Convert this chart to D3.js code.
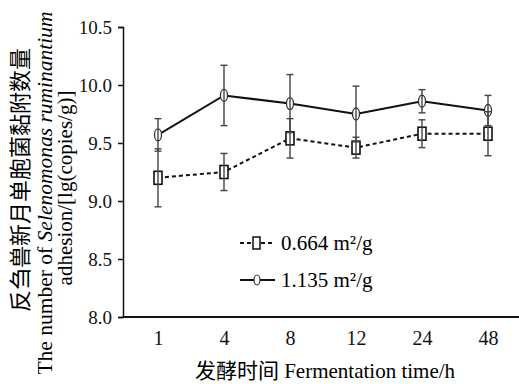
<!DOCTYPE html>
<html><head><meta charset="utf-8">
<script src="https://cdn.jsdelivr.net/npm/d3@7"></script>
<style>
body{margin:0;background:#fff;}
</style></head>
<body><svg id="c" width="519" height="384"></svg>
<script>
const categories = ["1","4","8","12","24","48"];
const seriesNames = ["0.664 m²/g","1.135 m²/g"];
const valuesA = [9.20, 9.25, 9.54, 9.46, 9.58, 9.58];
const errorsA = [0.25, 0.16, 0.17, 0.09, 0.12, 0.19];
const valuesB = [9.57, 9.91, 9.84, 9.75, 9.86, 9.78];
const errorsB = [0.14, 0.26, 0.25, 0.24, 0.10, 0.13];
const yTicks = [8.0, 8.5, 9.0, 9.5, 10.0, 10.5];

const SERIF = "'Liberation Serif','DejaVu Serif','Noto Serif',serif";
const svg = d3.select("#c");
const x = d3.scalePoint().domain(categories).range([125, 521]).padding(0.5);
const y = d3.scaleLinear().domain([8.0, 10.5]).range([317, 27]);

// axes
const yAxis = svg.append("g").attr("transform","translate(123,0)")
  .call(d3.axisLeft(y).tickValues(yTicks).tickFormat(d3.format(".1f")).tickSizeOuter(0).tickSize(5).tickPadding(6));
yAxis.attr("font-family", null);
yAxis.select(".domain").attr("stroke","#111").attr("stroke-width",1.5);
yAxis.selectAll(".tick line").attr("stroke","#111").attr("stroke-width",1.5);
yAxis.selectAll("text").style("font-family",SERIF).style("font-size","19px").attr("fill","#111");

const xAxis = svg.append("g").attr("transform","translate(0,317)")
  .call(d3.axisBottom(x).tickSize(0).tickPadding(14));
xAxis.attr("font-family", null);
xAxis.select(".domain").remove();
svg.append("line").attr("x1",123).attr("x2",519).attr("y1",317).attr("y2",317)
  .attr("stroke","#111").attr("stroke-width",2.2);
xAxis.selectAll("text").style("font-family",SERIF).style("font-size","20px").attr("fill","#111");

// lines
const line = (vals)=>d3.line().x((d,i)=>x(categories[i])).y(d=>y(d))(vals);
svg.append("path").attr("d",line(valuesA)).attr("fill","none").attr("stroke","#111")
  .attr("stroke-width",2).attr("stroke-dasharray","4,3");
svg.append("path").attr("d",line(valuesB)).attr("fill","none").attr("stroke","#111")
  .attr("stroke-width",2);

// markers
function squares(vals){
  svg.append("g").selectAll("rect").data(vals).join("rect")
    .attr("x",(d,i)=>x(categories[i])-4).attr("y",d=>y(d)-6.5)
    .attr("width",8).attr("height",13).attr("fill","#fff").attr("stroke","#111").attr("stroke-width",1.6);
}
function circles(vals){
  svg.append("g").selectAll("ellipse").data(vals).join("ellipse")
    .attr("cx",(d,i)=>x(categories[i])).attr("cy",d=>y(d))
    .attr("rx",3.5).attr("ry",6).attr("fill","#fff").attr("stroke","#333").attr("stroke-width",1.3);
}
squares(valuesA); circles(valuesB);

// error bars
function errs(vals, errs){
  const g = svg.append("g").attr("stroke","#444").attr("stroke-width",1.4);
  vals.forEach((v,i)=>{
    const cx = x(categories[i]);
    const top = y(v+errs[i]), bot = y(v-errs[i]);
    g.append("line").attr("x1",cx).attr("x2",cx).attr("y1",top).attr("y2",bot);
    g.append("line").attr("x1",cx-3.5).attr("x2",cx+3.5).attr("y1",top).attr("y2",top);
    g.append("line").attr("x1",cx-3.5).attr("x2",cx+3.5).attr("y1",bot).attr("y2",bot);
  });
}
errs(valuesA, errorsA); errs(valuesB, errorsB);

// legend
const lg = svg.append("g");
lg.append("line").attr("x1",240).attr("x2",272).attr("y1",243).attr("y2",243)
  .attr("stroke","#111").attr("stroke-width",2).attr("stroke-dasharray","4,3");
lg.append("rect").attr("x",253).attr("y",237).attr("width",7).attr("height",12)
  .attr("fill","#fff").attr("stroke","#111").attr("stroke-width",1.5);
lg.append("text").attr("x",281).attr("y",250).style("font-family",SERIF).style("font-size","21px").text(seriesNames[0]);
lg.append("line").attr("x1",240).attr("x2",275).attr("y1",280).attr("y2",280)
  .attr("stroke","#111").attr("stroke-width",2);
lg.append("ellipse").attr("cx",257).attr("cy",280).attr("rx",3).attr("ry",5)
  .attr("fill","#fff").attr("stroke","#333").attr("stroke-width",1.2);
lg.append("text").attr("x",281).attr("y",287).style("font-family",SERIF).style("font-size","21px").text(seriesNames[1]);

// axis titles
svg.append("text").attr("x",325).attr("y",378).attr("text-anchor","middle")
  .style("font-family","'Liberation Serif','Noto Sans CJK SC',serif")
  .style("font-size","21px").text("发酵时间  Fermentation time/h");

const yt = svg.append("g");
yt.append("text").attr("transform","translate(28,180) rotate(-90)").attr("text-anchor","middle")
  .style("font-size","22px").style("font-family","'Noto Sans CJK SC',sans-serif")
  .text("反刍兽新月单胞菌黏附数量");
const t2 = yt.append("text").attr("transform","translate(52,193) rotate(-90)").attr("text-anchor","middle")
  .style("font-family",SERIF).style("font-size","21.5px");
t2.append("tspan").text("The number of ");
t2.append("tspan").style("font-style","italic").text("Selenomonas ruminantium");
yt.append("text").attr("transform","translate(72,188) rotate(-90)").attr("text-anchor","middle")
  .style("font-family",SERIF).style("font-size","21px").text("adhesion/[lg(copies/g)]");
</script></body></html>
